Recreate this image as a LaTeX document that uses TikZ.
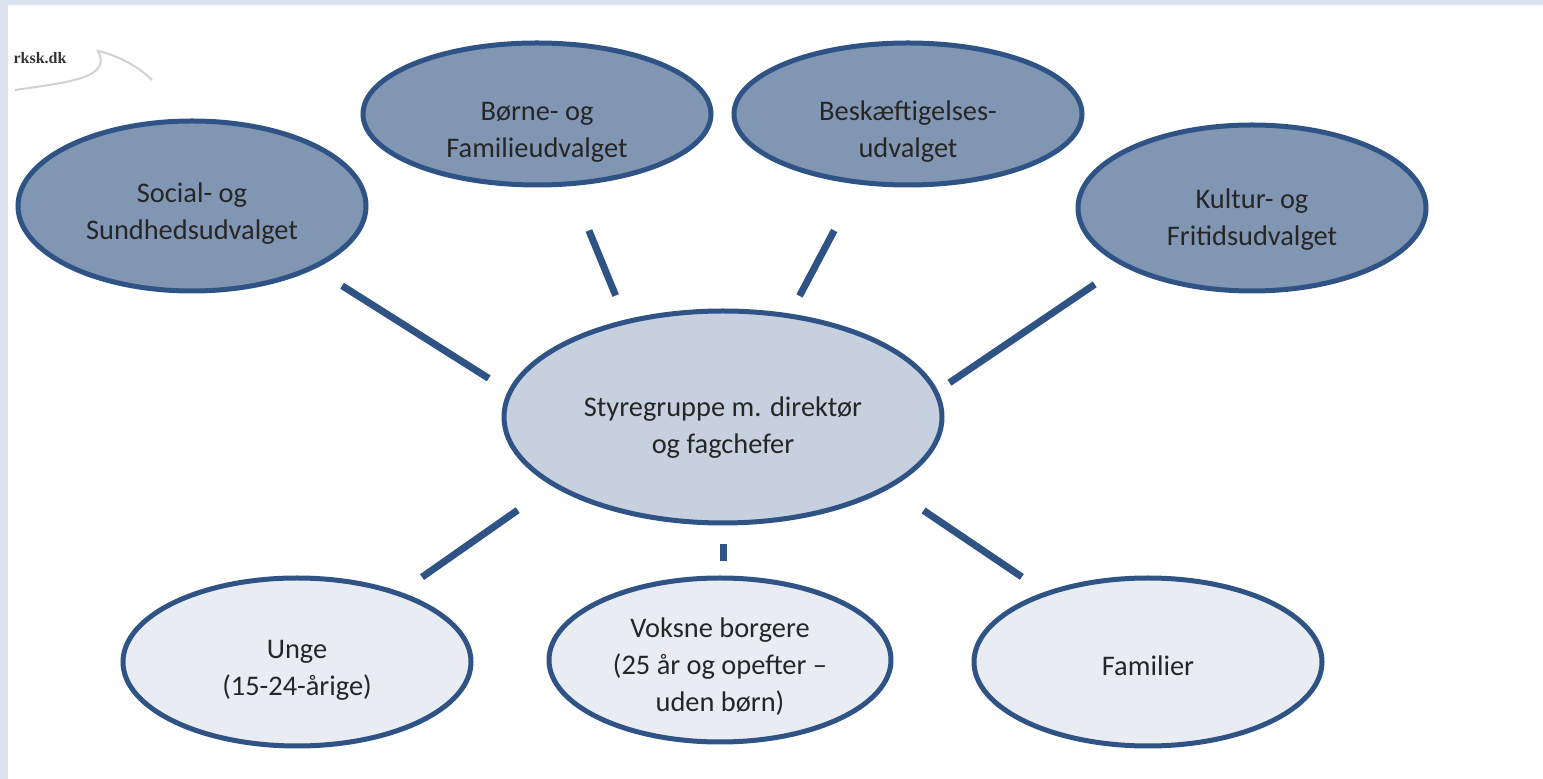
\documentclass[tikz,border=0pt]{standalone}
\usepackage{fontspec}
\setmainfont{Carlito}
\newfontfamily\logofont{Liberation Serif}
\usetikzlibrary{shapes.geometric}
\definecolor{rimblue}{HTML}{2E5384}
\definecolor{boardfill}{HTML}{8196B3}
\definecolor{steerfill}{HTML}{C6D0DE}
\definecolor{groupfill}{HTML}{E9EDF3}
\definecolor{frameblue}{HTML}{DCE3EE}
\definecolor{inkgrey}{HTML}{262626}
\begin{document}
\begin{tikzpicture}[x=0.5pt,y=-0.5pt,
    oval/.style={ellipse, draw=rimblue, line width=2.5pt, inner sep=0pt, align=center,
        text=inkgrey, font=\fontsize{14.2}{18.5}\selectfont},
    board/.style={oval, fill=boardfill, minimum width=174pt, minimum height=#1},
    steer/.style={oval, fill=steerfill, minimum width=219pt, minimum height=106pt},
    group/.style={oval, fill=groupfill, minimum width=174pt, minimum height=#1},
    link/.style 2 args={draw=rimblue, line width=3.5pt, shorten <=#1, shorten >=#2},
    logo/.style={text=black!80, font=\logofont\fontsize{8}{9}\selectfont\bfseries},
    swoosh/.style={draw=black!18, line width=1pt}]
    \useasboundingbox (0,0) rectangle (1543,779);
    % frame
    \fill[frameblue] (-10,-10) rectangle (1560,790);
    \fill[white] (8,5) rectangle (1560,790);
    % logo
    \node[logo] (rksk) at (40,58) {rksk.dk};
    \draw[swoosh] (15,90) .. controls (70,82) and (112,78) .. (98,51)
        .. controls (120,56) and (140,68) .. (152,80);
    % committees
    \node[board=85pt, text height=36pt] (soc) at (192,206) {Social- og\\Sundhedsudvalget};
    \node[board=71pt, text height=46pt] (bor) at (537,114) {Børne- og\\Familieudvalget};
    \node[board=71pt, text height=46pt] (bes) at (908,114) {Beskæftigelses-\\udvalget};
    \node[board=83pt, text height=40pt] (kul) at (1252,208) {Kultur- og\\Fritidsudvalget};
    % steering group
    \node[steer, text height=39pt] (ctr) at (723,417) {Styregruppe m. direktør\\og fagchefer};
    % target groups
    \node[group=84pt, text height=36pt] (ung) at (297,662) {Unge\\(15-24-årige)};
    \node[group=82pt, minimum width=171pt, text height=53.5pt] (vok) at (720,660) {Voksne borgere\\(25 år og opefter –\\uden børn)};
    \node[group=84pt, text height=13.5pt] (fam) at (1148,662) {Familier};
    % links
    \draw[link={16pt}{11.5pt}] (soc.-27) -- (ctr.173.4);
    \draw[link={24pt}{13pt}] (bor.-65.6) -- (ctr.135.7);
    \draw[link={26pt}{10pt}] (bes.235.4) -- (ctr.57.8);
    \draw[link={16.5pt}{7pt}] (kul.204.5) -- (ctr.7.4);
    \draw[link={21pt}{13pt}] (ctr.202.4) -- (ung.34.3);
    \draw[link={9.5pt}{7pt}] (ctr.south) -- (ctr.south |- vok.north);
    \draw[link={20pt}{13.5pt}] (ctr.-23) -- (fam.146.4);
\end{tikzpicture}
\end{document}
